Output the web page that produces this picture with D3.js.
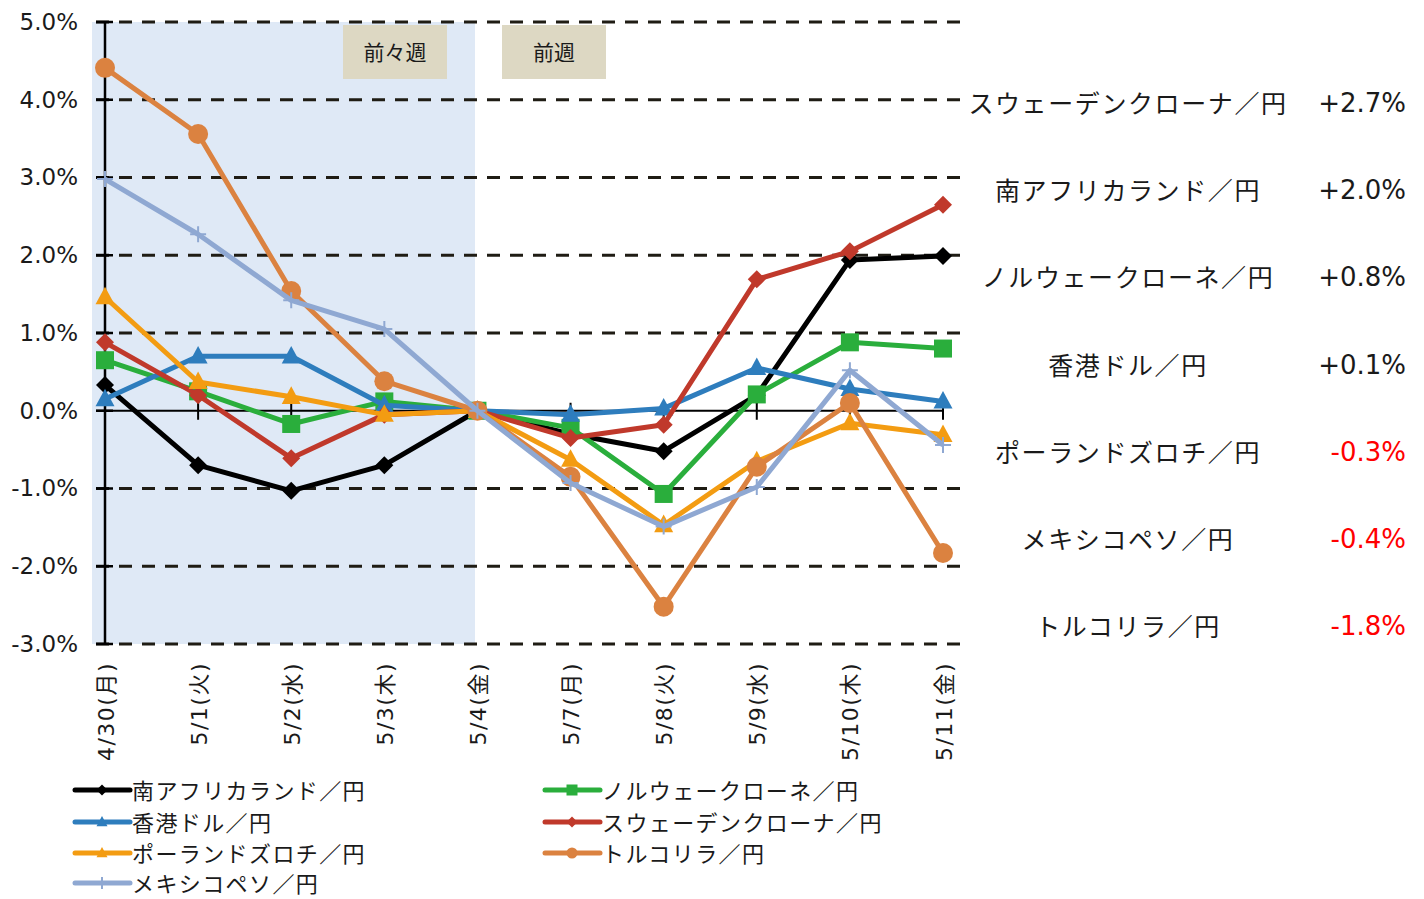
<!DOCTYPE html>
<html><head><meta charset="utf-8">
<script src="https://cdn.jsdelivr.net/npm/d3@7"></script>
<style>
html,body{margin:0;padding:0;background:#fff;}
text{font-family:"DejaVu Sans","Noto Sans CJK JP",sans-serif;fill:#1a1a1a;}
.jp{font-family:"Noto Sans CJK JP","DejaVu Sans",sans-serif;}
</style></head>
<body>
<svg id="c" width="1424" height="899"></svg>
<script>
const categories = ["4/30(月)","5/1(火)","5/2(水)","5/3(木)","5/4(金)","5/7(月)","5/8(火)","5/9(水)","5/10(木)","5/11(金)"];
const seriesNames = ["南アフリカランド／円","ノルウェークローネ／円","香港ドル／円","スウェーデンクローナ／円","ポーランドズロチ／円","トルコリラ／円","メキシコペソ／円"];
const zar = [0.33,-0.70,-1.03,-0.70,0,-0.30,-0.52,0.20,1.94,1.99];
const nok = [0.65,0.25,-0.17,0.12,0,-0.22,-1.07,0.21,0.88,0.80];
const hkd = [0.15,0.70,0.70,0.07,0,-0.05,0.03,0.55,0.28,0.12];
const sek = [0.88,0.20,-0.61,-0.05,0,-0.35,-0.18,1.69,2.05,2.65];
const pln = [1.46,0.37,0.18,-0.05,0,-0.63,-1.47,-0.65,-0.16,-0.31];
const tryl = [4.41,3.56,1.54,0.38,0,-0.85,-2.52,-0.72,0.10,-1.83];
const mxn = [2.98,2.27,1.42,1.05,0,-0.93,-1.49,-0.98,0.52,-0.44];
const yTicks = [-3,-2,-1,0,1,2,3,4,5];
const weekLabels = ["前々週","前週"];
const rankNames = ["スウェーデンクローナ／円","南アフリカランド／円","ノルウェークローネ／円","香港ドル／円","ポーランドズロチ／円","メキシコペソ／円","トルコリラ／円"];
const rankValues = [2.7,2.0,0.8,0.1,-0.3,-0.4,-1.8];

const seriesData = [zar,nok,hkd,sek,pln,tryl,mxn];
const colors = ["#000000","#2aae3c","#2e7dbd","#c0392b","#f39c12","#db8240","#8fa8d2"];
const markers = ["diamond","square","triangle","diamond","triangle","circle","plus"];
const fmtPct = v => v.toFixed(1) + "%";

const svg = d3.select("#c");
const x = d3.scalePoint().domain(categories).range([105,943]);
const y = d3.scaleLinear().domain([-3,5]).range([644,22]);

// shaded previous-previous week
svg.append("rect").attr("x",92).attr("y",y(5)).attr("width",475-92).attr("height",y(-3)-y(5)).attr("fill","#dfe9f6");

// week label boxes
const boxes = [{cx:395},{cx:554}];
weekLabels.forEach((t,i)=>{
  svg.append("rect").attr("x",boxes[i].cx-52).attr("y",25).attr("width",104).attr("height",54).attr("fill","#ddd8c3");
  svg.append("text").attr("class","jp").attr("x",boxes[i].cx).attr("y",51).attr("text-anchor","middle")
    .attr("dominant-baseline","central").attr("font-size",21).text(t);
});

// gridlines
yTicks.filter(v=>v!==0).forEach(v=>{
  svg.append("line").attr("x1",96).attr("x2",962).attr("y1",y(v)).attr("y2",y(v))
    .attr("stroke","#1f1c14").attr("stroke-width",3).attr("stroke-dasharray","13,10");
});

// y axis
const yAxis = d3.axisLeft(y).tickValues(yTicks).tickFormat(fmtPct).tickSize(0).tickPadding(27);
const ya = svg.append("g").attr("transform","translate(105,0)").call(yAxis);
ya.select(".domain").remove();
ya.selectAll("text").attr("font-size",23).attr("fill","#1a1a1a").style("font-family","DejaVu Sans");
svg.append("line").attr("x1",105).attr("x2",105).attr("y1",y(5)).attr("y2",y(-3)).attr("stroke","#000").attr("stroke-width",2.5);
yTicks.forEach(v=>{
  svg.append("line").attr("x1",96).attr("x2",113).attr("y1",y(v)).attr("y2",y(v)).attr("stroke","#000").attr("stroke-width",2.5);
});

// zero line + x ticks
svg.append("line").attr("x1",96).attr("x2",943).attr("y1",y(0)).attr("y2",y(0)).attr("stroke","#000").attr("stroke-width",2);
categories.forEach(c=>{
  svg.append("line").attr("x1",x(c)).attr("x2",x(c)).attr("y1",y(0)-8).attr("y2",y(0)+9).attr("stroke","#000").attr("stroke-width",2);
});

// x labels
categories.forEach(c=>{
  svg.append("text").attr("transform",`translate(${x(c)+1},662) rotate(-90)`)
    .attr("text-anchor","end").attr("dominant-baseline","central").attr("font-size",22).attr("letter-spacing",1.5).text(c);
});

function drawMarker(g,type,cx,cy,col,s){
  if(type==="diamond"){
    g.append("path").attr("d",`M${cx},${cy-s}L${cx+s},${cy}L${cx},${cy+s}L${cx-s},${cy}Z`).attr("fill",col);
  } else if(type==="square"){
    g.append("rect").attr("x",cx-s).attr("y",cy-s).attr("width",2*s).attr("height",2*s).attr("fill",col);
  } else if(type==="triangle"){
    g.append("path").attr("d",`M${cx},${cy-s*1.1}L${cx+s},${cy+s*0.75}L${cx-s},${cy+s*0.75}Z`).attr("fill",col);
  } else if(type==="circle"){
    g.append("circle").attr("cx",cx).attr("cy",cy).attr("r",s).attr("fill",col);
  } else if(type==="plus"){
    g.append("path").attr("d",`M${cx-s},${cy}H${cx+s}M${cx},${cy-s}V${cy+s}`).attr("stroke",col).attr("stroke-width",2);
  }
}
const mSize = {diamond:9,square:9,triangle:9.5,circle:10,plus:8};

const line = d3.line().x((d,i)=>x(categories[i])).y(d=>y(d));
seriesData.forEach((vals,si)=>{
  const g = svg.append("g");
  g.append("path").datum(vals).attr("d",line).attr("fill","none").attr("stroke",colors[si])
    .attr("stroke-width",5).attr("stroke-linejoin","round");
  vals.forEach((v,i)=>drawMarker(g,markers[si],x(categories[i]),y(v),colors[si],mSize[markers[si]]));
});

// legend
const legPos = [[75,790],[545,790],[75,822],[545,822],[75,853],[545,853],[75,883]];
seriesNames.forEach((n,i)=>{
  const [lx,ly] = legPos[i];
  const g = svg.append("g");
  g.append("line").attr("x1",lx).attr("x2",lx+55).attr("y1",ly).attr("y2",ly).attr("stroke",colors[i]).attr("stroke-width",5).attr("stroke-linecap","round");
  drawMarker(g,markers[i],lx+27,ly,colors[i],markers[i]==="plus"?6:5.5);
  g.append("text").attr("class","jp").attr("x",lx+57).attr("y",ly-1).attr("dominant-baseline","central")
    .attr("font-size",22).attr("letter-spacing",1.4).text(n);
});

// ranking panel
rankNames.forEach((n,i)=>{
  const ry = 102 + i*87.2;
  svg.append("text").attr("class","jp").attr("x",1128).attr("y",ry).attr("text-anchor","middle").attr("dominant-baseline","central")
    .attr("font-size",25).attr("letter-spacing",1.6).text(n);
  const v = rankValues[i];
  svg.append("text").attr("x",1406).attr("y",ry+1).attr("text-anchor","end").attr("dominant-baseline","central")
    .attr("font-size",26).style("fill",v<0?"#ff0000":"#1a1a1a").text((v>=0?"+":"")+fmtPct(v));
});
</script>
</body></html>
